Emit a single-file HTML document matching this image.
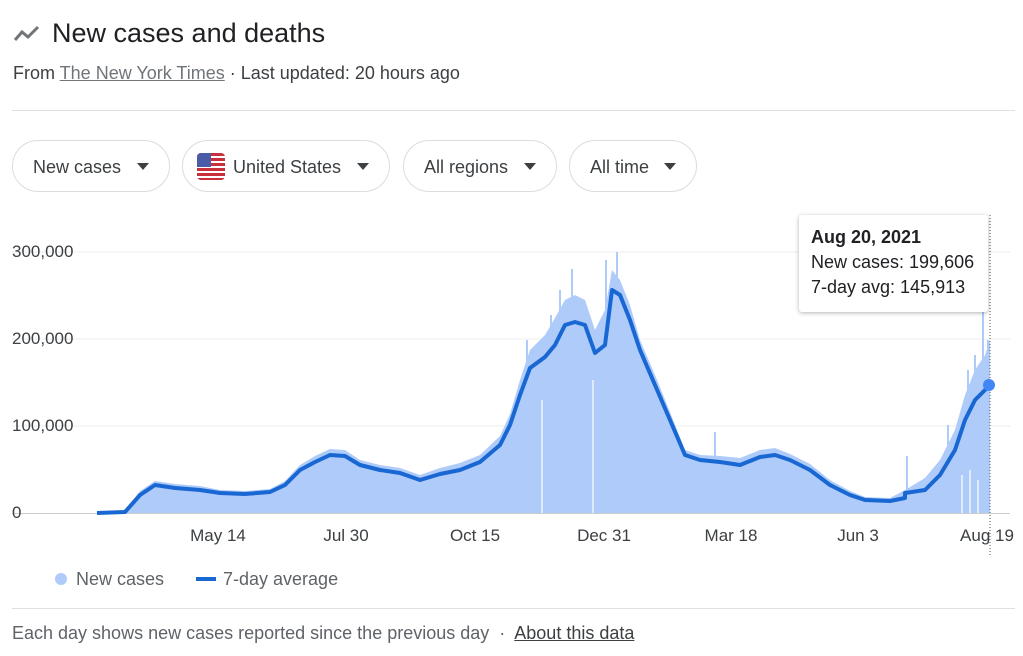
<!DOCTYPE html>
<html><head><meta charset="utf-8"><style>
body{margin:0;background:#fff;width:1023px;height:656px;overflow:hidden;font-family:"Liberation Sans",Arial,sans-serif;color:#202124}
.t{position:absolute;left:52px;top:18px;font-size:27px}
.s{position:absolute;left:13px;top:63px;font-size:18px;color:#3c4043}
.s u{color:#70757a}
.hr{position:absolute;left:12px;right:8px;height:1px;background:#e0e0e0}
.chip{position:absolute;top:140px;height:52px;border:1px solid #dadce0;border-radius:27px;box-sizing:border-box;font-size:18px;line-height:52px;padding-left:20px;color:#3c4043}
.chip:after{content:"";position:absolute;right:20px;top:22px;border:6px solid transparent;border-top:7px solid #3c4043}
.tip{position:absolute;left:799px;top:215px;width:189px;height:97px;background:#fff;box-shadow:0 1px 4px rgba(0,0,0,.3);border-radius:3px;font-size:18px;line-height:25px;padding:10px 12px;box-sizing:border-box;white-space:nowrap}
</style></head><body>
<svg style="position:absolute;left:12px;top:24px" width="30" height="20"><polyline points="3,16 10,8 16,13 26,3" fill="none" stroke="#70757a" stroke-width="3"/></svg>
<div class="t">New cases and deaths</div>
<div class="s">From <u>The New York Times</u> · Last updated: 20 hours ago</div>
<div class="hr" style="top:110px"></div>
<div class="chip" style="left:12px;width:158px">New cases</div>
<div class="chip" style="left:182px;width:208px;padding-left:50px"><span style="position:absolute;left:14px;top:12px;width:28px;height:27px;border-radius:4px;background:repeating-linear-gradient(#c8303e 0 3px,#fff 3px 5px)"></span><span style="position:absolute;left:14px;top:12px;width:14px;height:14px;background:#4a5ba8;border-radius:4px 0 0 0"></span>United States</div>
<div class="chip" style="left:403px;width:154px">All regions</div>
<div class="chip" style="left:569px;width:128px">All time</div>
<svg style="position:absolute;left:0;top:0" width="1023" height="656">
<g stroke="#ececec"><line x1="12" x2="1010" y1="252" y2="252"/><line x1="12" x2="1010" y1="339" y2="339"/><line x1="12" x2="1010" y1="426" y2="426"/></g>
<line x1="12" x2="1010" y1="513.5" y2="513.5" stroke="#ccc"/>
<g font-size="17" fill="#3c4043"><text x="12" y="257">300,000</text><text x="12" y="344">200,000</text><text x="12" y="431">100,000</text><text x="12" y="518">0</text>
<g text-anchor="middle" font-size="17"><text x="218" y="541">May 14</text><text x="346" y="541">Jul 30</text><text x="475" y="541">Oct 15</text><text x="604" y="541">Dec 31</text><text x="731" y="541">Mar 18</text><text x="858" y="541">Jun 3</text><text x="987" y="541">Aug 19</text></g></g>
<polygon fill="#aecbfa" points="97,513 125,511 140,491 155,481 175,484 200,486 220,490 245,491 270,489 285,481 300,465 315,456 330,449 345,450 360,460 380,465 400,468 420,475 440,468 460,463 480,455 500,436 510,414 520,380 530,350 545,335 555,318 565,300 575,295 585,300 595,330 605,310 612,270 620,280 630,305 640,340 655,375 670,412 685,450 700,455 720,456 740,458 760,450 775,448 790,454 810,464 830,480 850,491 865,497 890,498 905,490 925,478 940,460 955,430 965,395 975,370 985,355 990,340 990,513"/>
<g stroke="#aecbfa" stroke-width="2"><line x1="572" y1="513" x2="572" y2="269"/><line x1="606" y1="513" x2="606" y2="260"/><line x1="617" y1="513" x2="617" y2="252"/><line x1="560" y1="513" x2="560" y2="290"/><line x1="551" y1="513" x2="551" y2="315"/><line x1="527" y1="513" x2="527" y2="340"/><line x1="983" y1="513" x2="983" y2="310"/><line x1="988" y1="513" x2="988" y2="340"/><line x1="975" y1="513" x2="975" y2="355"/><line x1="968" y1="513" x2="968" y2="370"/><line x1="715" y1="513" x2="715" y2="432"/><line x1="907" y1="513" x2="907" y2="456"/><line x1="948" y1="513" x2="948" y2="425"/></g>
<g stroke="#fff" stroke-width="1.5" opacity="0.8"><line x1="970" y1="513" x2="970" y2="470"/><line x1="978" y1="513" x2="978" y2="480"/><line x1="962" y1="513" x2="962" y2="475"/><line x1="593" y1="513" x2="593" y2="380"/><line x1="542" y1="513" x2="542" y2="400"/></g>
<polyline fill="none" stroke="#1967d2" stroke-width="4" stroke-linejoin="round" points="97,513 125,512 140,495 155,485 175,488 200,490 220,493 245,494 270,492 285,485 300,470 315,462 330,455 345,456 360,465 380,470 400,473 420,480 440,474 460,470 480,462 500,445 510,425 520,395 530,368 545,357 555,345 565,325 575,322 585,325 595,353 605,345 612,290 620,295 630,320 640,350 655,385 670,420 685,455 700,460 720,462 740,465 760,457 775,455 790,460 810,470 830,485 850,495 865,500 890,501 905,498 905,493 925,490 940,475 955,450 965,420 975,400 985,390 990,385"/>
<line x1="990" y1="215" x2="990" y2="555" stroke="#555" stroke-dasharray="1,2"/>
<circle cx="989" cy="385" r="6" fill="#4285f4"/>
<circle cx="61" cy="579" r="6" fill="#aecbfa"/><line x1="196" x2="216" y1="579" y2="579" stroke="#1967d2" stroke-width="4"/>
<g font-size="18" fill="#5f6368"><text x="76" y="585">New cases</text><text x="223" y="585">7-day average</text></g>
</svg>
<div class="tip"><b>Aug 20, 2021</b><br>New cases: 199,606<br>7-day avg: 145,913</div>
<div class="hr" style="top:608px"></div>
<div style="position:absolute;left:12px;top:623px;font-size:18px;color:#5f6368">Each day shows new cases reported since the previous day &nbsp;·&nbsp; <u style="color:#3c4043">About this data</u></div>
</body></html>
